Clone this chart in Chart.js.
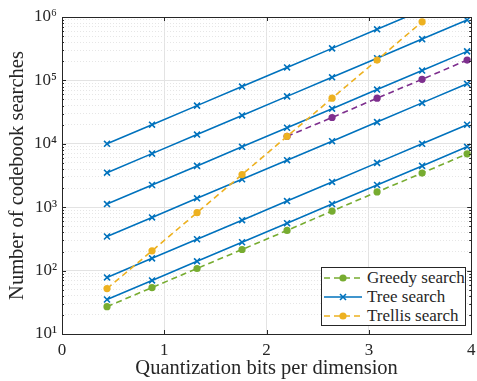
<!DOCTYPE html>
<html>
<head>
<meta charset="utf-8">
<script src="https://cdn.jsdelivr.net/npm/chart.js@4.4.1/dist/chart.umd.min.js"></script>
<style>
  html, body { margin: 0; padding: 0; background: #fff; }
  #wrap { position: relative; width: 477px; height: 381px; }
  #legend {
    position: absolute; left: 321px; top: 267px; width: 145px; height: 59px;
    box-sizing: border-box; border: 1px solid #262626; background: #fff;
    font-family: "Liberation Serif", serif; font-size: 17px; color: #262626;
    padding: 0 0 0 1px;
  }
  .row { display: flex; align-items: center; height: 19px; }
  .row svg { margin-right: 4px; }
</style>
</head>
<body>
<div id="wrap">
  <canvas id="chart" width="477" height="381"></canvas>
  <div id="legend"></div>
</div>
<script>
// Datos
const bits = [0.44, 0.88, 1.32, 1.76, 2.2, 2.64, 3.08, 3.52, 3.96];

const greedy = [27, 54, 108, 215, 430, 870, 1740, 3450, 6950];

const tree1 = [10000, 20000, 40000, 80000, 160000, 320000, 640000, 1280000];
const tree2 = [3500, 7000, 14000, 28000, 56000, 112000, 224000, 448000, 896000];
const tree3 = [1120, 2240, 4480, 8960, 17900, 35800, 71700, 143000, 287000];
const tree4 = [345, 690, 1380, 2760, 5520, 11000, 22000, 44200, 88300];
const tree5 = [78, 156, 312, 624, 1250, 2500, 5000, 10000, 20000];
const tree6 = [35, 70, 140, 280, 560, 1120, 2240, 4480, 8960];

const trellis = [52, 205, 820, 3270, 13100, 52400, 209000, 840000, 3360000];
const trellis2Bits = [2.2, 2.64, 3.08, 3.52, 3.96];
const trellis2 = [13100, 26000, 52400, 104000, 209000];

const xTicks = [0, 1, 2, 3, 4];
const yMajor = [10, 100, 1000, 10000, 100000, 1000000];
const yMajorLabels = ['10¹', '10²', '10³', '10⁴', '10⁵', '10⁶'];

// Colores estilo MATLAB
const BLUE = '#0072BD';
const GREEN = '#77AC30';
const ORANGE = '#EDB120';
const PURPLE = '#7E2F8E';
const AXIS = '#262626';
const SERIF = '"Liberation Serif", "DejaVu Serif", serif';

// Líneas menores de la rejilla (2..9 por década)
const yMinor = [];
yMajor.slice(0, -1).forEach(d => {
    for (let m = 2; m <= 9; m++) yMinor.push(d * m);
});

function pts(xs, ys) {
    return ys.map((y, i) => ({ x: xs[i], y: y }));
}

function circleSet(label, xs, ys, color) {
    return {
        label: label,
        data: pts(xs, ys),
        borderColor: color,
        backgroundColor: color,
        borderWidth: 1.6,
        borderDash: [6, 4],
        pointStyle: 'circle',
        pointRadius: 3.6,
        pointBorderWidth: 0,
        tension: 0
    };
}

function treeSet(ys) {
    return {
        label: 'Tree search',
        data: pts(bits, ys),
        borderColor: BLUE,
        backgroundColor: BLUE,
        borderWidth: 1.6,
        pointStyle: 'crossRot',
        pointRadius: 4.2,
        pointBorderWidth: 1.6,
        tension: 0
    };
}

const datasets = [
    circleSet('Trellis search', bits, trellis, ORANGE),
    circleSet('Greedy search', bits, greedy, GREEN),
    circleSet('Trellis (variante)', trellis2Bits, trellis2, PURPLE),
    treeSet(tree1), treeSet(tree2), treeSet(tree3),
    treeSet(tree4), treeSet(tree5), treeSet(tree6)
];

// Marco y marcas interiores de los ejes
const boxPlugin = {
    id: 'box',
    afterDraw(chart) {
        const { ctx, chartArea: a, scales } = chart;
        ctx.save();
        ctx.strokeStyle = AXIS;
        ctx.lineWidth = 1;
        ctx.beginPath();
        yMajor.forEach(v => {
            const y = Math.round(scales.y.getPixelForValue(v)) + 0.5;
            ctx.moveTo(a.left, y); ctx.lineTo(a.left + 4, y);
            ctx.moveTo(a.right, y); ctx.lineTo(a.right - 4, y);
        });
        yMinor.forEach(v => {
            const y = Math.round(scales.y.getPixelForValue(v)) + 0.5;
            ctx.moveTo(a.left, y); ctx.lineTo(a.left + 2, y);
            ctx.moveTo(a.right, y); ctx.lineTo(a.right - 2, y);
        });
        xTicks.forEach(v => {
            const x = Math.round(scales.x.getPixelForValue(v)) + 0.5;
            ctx.moveTo(x, a.bottom); ctx.lineTo(x, a.bottom - 4);
            ctx.moveTo(x, a.top); ctx.lineTo(x, a.top + 4);
        });
        ctx.stroke();
        ctx.strokeRect(Math.round(a.left) + 0.5, Math.round(a.top) + 0.5,
            Math.round(a.right - a.left), Math.round(a.bottom - a.top));
        ctx.restore();
    }
};

new Chart(document.getElementById('chart'), {
    type: 'line',
    data: { datasets: datasets },
    options: {
        responsive: false,
        animation: false,
        layout: { padding: { left: 0, right: 5, top: 17, bottom: 0 } },
        plugins: { legend: { display: false }, tooltip: { enabled: false } },
        scales: {
            x: {
                type: 'linear', min: 0, max: 4,
                afterBuildTicks: s => { s.ticks = xTicks.map(v => ({ value: v })); },
                ticks: { font: { family: SERIF, size: 17 }, color: AXIS, padding: 6 },
                grid: { color: '#e3e3e3', drawTicks: false },
                border: { display: false },
                title: {
                    display: true, text: 'Quantization bits per dimension',
                    font: { family: SERIF, size: 20.5 }, color: AXIS,
                    padding: { top: 0, bottom: 0 }
                },
                afterFit: s => {
                    s.height = 47;
                    s.paddingLeft = 0;
                    s.paddingRight = 0;
                }
            },
            y: {
                type: 'logarithmic', min: 10, max: 1000000,
                afterBuildTicks: s => { s.ticks = yMajor.map(v => ({ value: v, major: true })); },
                ticks: {
                    autoSkip: false,
                    font: { family: SERIF, size: 17 }, color: AXIS, padding: 5,
                    callback: v => {
                        const i = yMajor.indexOf(v);
                        return i >= 0 ? yMajorLabels[i] : '';
                    }
                },
                grid: { color: '#e3e3e3', drawTicks: false },
                border: { display: false },
                title: {
                    display: true, text: 'Number of codebook searches',
                    font: { family: SERIF, size: 20.5 }, color: AXIS,
                    padding: { top: 5, bottom: 0 }
                },
                afterFit: s => { s.width = 62; }
            },
            yMinor: {
                type: 'logarithmic', min: 10, max: 1000000, position: 'right',
                afterBuildTicks: s => { s.ticks = yMinor.map(v => ({ value: v })); },
                ticks: { display: false },
                grid: { color: '#e6e6e6', drawTicks: false },
                border: { display: false, dash: [1, 2] },
                afterFit: s => { s.width = 0; }
            }
        }
    },
    plugins: [boxPlugin]
});

// Leyenda en HTML (línea + marcador)
const legendItems = [
    { label: 'Greedy search', color: GREEN, dash: '6 4', marker: 'circle' },
    { label: 'Tree search', color: BLUE, dash: '', marker: 'cross' },
    { label: 'Trellis search', color: ORANGE, dash: '6 4', marker: 'circle' }
];

const legendEl = document.getElementById('legend');
legendItems.forEach(item => {
    const mark = item.marker === 'circle'
        ? `<circle cx="20" cy="6" r="3.6" fill="${item.color}"/>`
        : `<path d="M17 3 L23 9 M23 3 L17 9" stroke="${item.color}" stroke-width="1.6"/>`;
    const row = document.createElement('div');
    row.className = 'row';
    row.innerHTML =
        `<svg width="40" height="12"><line x1="1" y1="6" x2="39" y2="6" stroke="${item.color}" ` +
        `stroke-width="1.6" stroke-dasharray="${item.dash}"/>${mark}</svg><span>${item.label}</span>`;
    legendEl.appendChild(row);
});
</script>
</body>
</html>
